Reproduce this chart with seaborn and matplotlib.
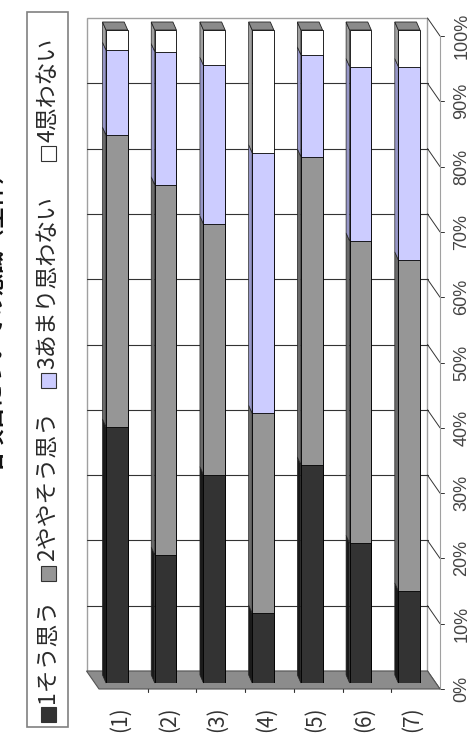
import numpy as np
import pandas as pd
import matplotlib
matplotlib.use('Agg')
import matplotlib.pyplot as plt
from matplotlib.patches import Polygon, Rectangle
from matplotlib.transforms import ScaledTranslation
import seaborn as sns

# data (percent per answer)
categories = ['(1)', '(2)', '(3)', '(4)', '(5)', '(6)', '(7)']
answers = ['1そう思う', '2ややそう思う', '3あまり思わない', '4思わない']
agree = [39.2, 19.6, 31.9, 10.7, 33.4, 21.4, 14.1]
somewhat_agree = [44.7, 56.7, 38.4, 30.6, 47.2, 46.3, 50.7]
not_really = [13.0, 20.4, 24.3, 39.9, 15.6, 26.7, 29.6]
disagree = [3.1, 3.3, 5.4, 18.8, 3.8, 5.6, 5.6]
pct_ticks = [0, 10, 20, 30, 40, 50, 60, 70, 80, 90, 100]
title = '各項目についての意識（全体）'

colors = ['#333333', '#969696', '#ccccff', '#ffffff']
side_colors = ['#1a1a1a', '#6a6a6a', '#9797c8', '#a0a0a0']

sns.set_style('white')
plt.rcParams['font.family'] = ['Noto Sans CJK JP', 'DejaVu Sans']

W, H = 475, 733
fig = plt.figure(figsize=(W / 100, H / 100), dpi=100)

# axes = front plane of the bars (pixel box measured on the picture)
L, R, T, B = 92.5, 433.5, 30, 683
ax = fig.add_axes([L / W, (H - B) / H, (R - L) / W, (B - T) / H])
px_x = (R - L) / len(categories)
px_y = (B - T) / 100.0


def off(dx, dy):
    # pixel offset -> data offset (dy positive = up)
    return dx / px_x, dy / px_y


bx, by = off(-6, 12)     # back wall
fx, fy = off(6.5, -6)    # front edge / value axis
cx, cy = off(-3.5, 8)    # bar depth
x0, x1 = -0.5, len(categories) - 0.5

# back wall + gridlines
ax.add_patch(Rectangle((x0 + bx, by), x1 - x0, 100, facecolor='white',
                       edgecolor='#a0a0a0', lw=1, zorder=0.1, clip_on=False))
for p in pct_ticks[1:-1]:
    ax.plot([x0 + bx, x1 + bx], [p + by, p + by], color='#333333', lw=0.8,
            zorder=0.2, clip_on=False)

# right side wall, value axis
for p in pct_ticks:
    ax.plot([x1 + bx, x1 + fx], [p + by, p + fy], color='#333333', lw=0.7,
            zorder=0.2, clip_on=False)
    ax.plot([x1 + fx, x1 + fx + 4 / px_x], [p + fy, p + fy], color='#333333',
            lw=0.7, zorder=0.2, clip_on=False)
    ax.text(x1 + fx + 22 / px_x, p + fy, f'{p}%', rotation=90, ha='center',
            va='center', fontsize=13, color='#444444',
            family=['Liberation Sans', 'DejaVu Sans'])
ax.plot([x1 + fx, x1 + fx], [fy, 100 + fy], color='#a0a0a0', lw=0.8,
        zorder=0.2, clip_on=False)

# floor
ax.add_patch(Polygon([(x0 + bx, by), (x1 + bx, by), (x1 + fx, fy), (x0 + fx, fy)],
                     closed=True, facecolor='#8c8c8c', edgecolor='#555555',
                     lw=0.8, zorder=0.3, clip_on=False))
for i in range(len(categories) - 1):
    ax.plot([i + 0.5 + fx, i + 0.5 + fx], [fy, fy - 3 / px_y], color='#333333',
            lw=0.8, clip_on=False, zorder=0.3)

# stacked bars: draw cumulative totals back to front
df = pd.DataFrame({'cat': categories, 'a': agree, 'b': somewhat_agree,
                   'c': not_really, 'd': disagree})
cols = ['a', 'b', 'c', 'd']
cum = df[cols].cumsum(axis=1)
bw = 0.445
for k in range(3, -1, -1):
    sns.barplot(x=df['cat'], y=cum[cols[k]], color=colors[k], width=bw,
                saturation=1, edgecolor='black', linewidth=0.6, errorbar=None,
                ax=ax, zorder=1)

# side faces and caps for a little depth
for i in range(len(categories)):
    xl, xr = i - bw / 2, i + bw / 2
    lo = 0
    for k in range(4):
        hi = cum.iloc[i, k]
        ax.add_patch(Polygon([(xl, lo), (xl, hi), (xl + cx, hi + cy), (xl + cx, lo + cy)],
                             closed=True, facecolor=side_colors[k], edgecolor='#222222',
                             lw=0.5, zorder=0.9, clip_on=False))
        lo = hi
    ax.add_patch(Polygon([(xl, lo), (xr, lo), (xr + cx, lo + cy), (xl + cx, lo + cy)],
                         closed=True, facecolor='#8a8a8a', edgecolor='#222222',
                         lw=0.6, zorder=0.9, clip_on=False))

ax.set_xlim(x0, x1)
ax.set_ylim(0, 100)
ax.set_xlabel('')
ax.set_ylabel('')
ax.set_yticks([])
sns.despine(ax=ax, left=True, bottom=True)
ax.tick_params(axis='x', length=0, pad=17, labelrotation=90, labelsize=15,
               labelcolor='#333333')
for lab in ax.get_xticklabels():
    lab.set_transform(lab.get_transform() + ScaledTranslation(3 / 100, 0, fig.dpi_scale_trans))

# legend (rotated, built by hand)
fig.patches.append(Rectangle((27 / W, (H - 727) / H), 41 / W, 715 / H,
                             transform=fig.transFigure, facecolor='white',
                             edgecolor='#808080', lw=1.2))
sq_top = [707, 566, 373, 146]
txt_start = [703, 561, 369, 142]
for k in range(4):
    fig.patches.append(Rectangle((41 / W, (H - sq_top[k] - 15) / H), 15 / W, 15 / H,
                                 transform=fig.transFigure, facecolor=colors[k],
                                 edgecolor='#333333', lw=0.8))
    fig.text(48 / W, (H - txt_start[k]) / H, answers[k], rotation=90,
             ha='center', va='bottom', fontsize=16.5, color='#2a2a2a')

# title (runs off the left edge like the scan)
fig.text(-5 / W, (H - 316) / H, title, rotation=90, ha='center', va='center',
         fontsize=16, fontweight='bold', color='#111111')

fig.savefig('out.png', dpi=100)
